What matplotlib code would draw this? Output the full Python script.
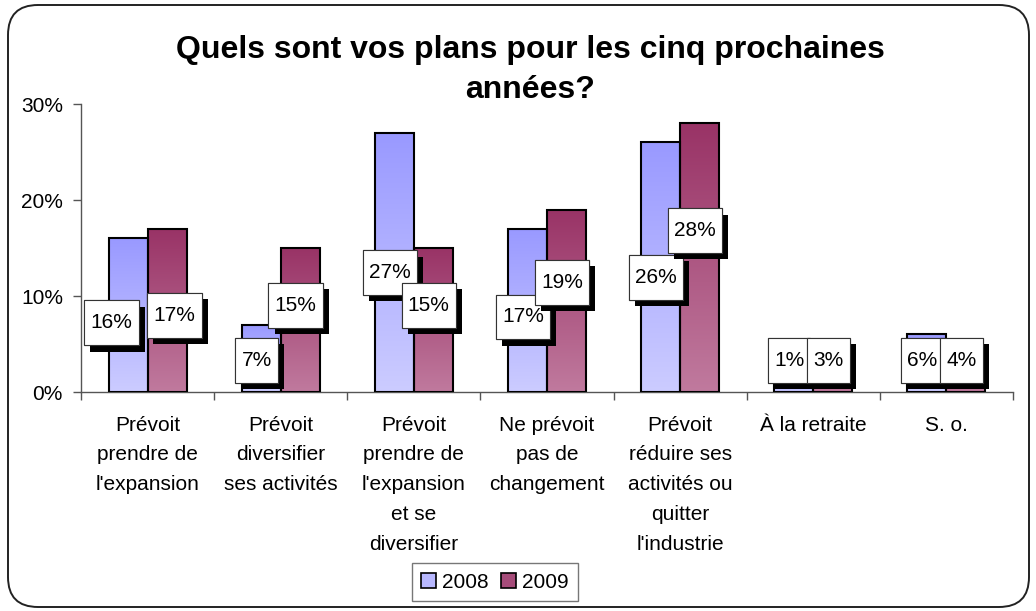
import numpy as np
import matplotlib
matplotlib.use("Agg")
import matplotlib.pyplot as plt
import matplotlib.patheffects as pe
from matplotlib.path import Path
from matplotlib.patches import FancyBboxPatch, Patch
from matplotlib.transforms import IdentityTransform
from matplotlib.colors import LinearSegmentedColormap

plt.rcParams['font.family'] = ['Liberation Sans', 'DejaVu Sans']

# donnees
categories = ["Prévoit\nprendre de\nl'expansion",
              "Prévoit\ndiversifier\nses activités",
              "Prévoit\nprendre de\nl'expansion\net se\ndiversifier",
              "Ne prévoit\npas de\nchangement",
              "Prévoit\nréduire ses\nactivités ou\nquitter\nl'industrie",
              "À la retraite",
              "S. o."]
series = ["2008", "2009"]
v2008 = [16, 7, 27, 17, 26, 1, 6]
v2009 = [17, 15, 15, 19, 28, 3, 4]
yticks = [0, 10, 20, 30]

# styles
grad = {"2008": ("#CCCCFF", "#9999FF"), "2009": ("#C07A9E", "#993366")}
legend_col = {"2008": "#B8B8FF", "2009": "#A64C7A"}
label_frac = {"2008": 0.46, "2009": 0.6}
label_min = 3.3
fs = 15


def label_box(x0, y0, width, height, mutation_size):
    px = 0.30 * mutation_size
    py = 0.62 * mutation_size
    verts = [(x0 - px, y0 - py), (x0 + width + px, y0 - py),
             (x0 + width + px, y0 + height + py), (x0 - px, y0 + height + py),
             (x0 - px, y0 - py)]
    return Path(verts, closed=True)


fig = plt.figure(figsize=(10.36, 6.11), dpi=100)
ax = fig.add_axes([81 / 1036, 1 - 392 / 611, (1013 - 81) / 1036, (392 - 104) / 611])

x = np.arange(len(categories))
w = 0.293
gradient = np.linspace(0, 1, 256).reshape(-1, 1)

# position des etiquettes: milieu de barre, ecartees si les barres sont presque egales
lab_y = [[max(v * label_frac[s], label_min) for v in vals] for s, vals in zip(series, [v2008, v2009])]
lab_dx = [[-0.035] * len(categories), [-0.035] * len(categories)]
for j in range(len(categories)):
    if abs(v2008[j] - v2009[j]) <= 1 and v2008[j] > 10:
        lab_y[0][j] = v2008[j] * 0.45
        lab_y[1][j] = v2009[j] * 0.47
        lab_dx[0][j] -= 0.09
        lab_dx[1][j] += 0.09

for i, (name, vals) in enumerate(zip(series, [v2008, v2009])):
    offs = (i - 0.5) * w
    cmap = LinearSegmentedColormap.from_list(name, grad[name])
    bars = ax.bar(x + offs, vals, w, color="none", edgecolor="black", linewidth=1.5, zorder=3)
    for b in bars:
        x0, y0 = b.get_x(), b.get_y()
        im = ax.imshow(gradient, cmap=cmap, aspect="auto", origin="lower",
                       extent=(x0, x0 + b.get_width(), y0, y0 + b.get_height()), zorder=2)
        im.set_clip_path(b)
    for j, v in enumerate(vals):
        t = ax.text(x[j] + offs + lab_dx[i][j], lab_y[i][j], f"{v}%",
                    ha="center", va="center", fontsize=fs, zorder=6,
                    bbox=dict(boxstyle=label_box, facecolor="white", edgecolor="#333333", linewidth=0.8))
        t.get_bbox_patch().set_path_effects([
            pe.withSimplePatchShadow(offset=(4.5, -4.5), shadow_rgbFace="black", alpha=1.0),
            pe.Normal()])

ax.set_xlim(-0.5, len(categories) - 0.5)
ax.set_ylim(0, 30)
ax.set_yticks(yticks)
ax.set_yticklabels([f"{t}%" for t in yticks], fontsize=fs)
ax.set_xticks(np.arange(len(categories) + 1) - 0.5)
ax.set_xticklabels([])
ax.set_xticks(x, minor=True)
ax.set_xticklabels(categories, minor=True, fontsize=fs, linespacing=1.72)
ax.tick_params(axis="x", which="minor", length=0, pad=17)
ax.tick_params(axis="x", which="major", length=6, color="#555555", width=1)
ax.tick_params(axis="y", length=6, color="#555555", width=1, pad=7)
for s in ["top", "right"]:
    ax.spines[s].set_visible(False)
for s in ["left", "bottom"]:
    ax.spines[s].set_color("#555555")
    ax.spines[s].set_linewidth(1)
ax.set_facecolor("none")

fig.text(530 / 1036, 1 - 70 / 611, "Quels sont vos plans pour les cinq prochaines\nannées?",
         ha="center", va="center", fontsize=23, fontweight="bold", linespacing=1.42)

handles = [Patch(facecolor=legend_col[s], edgecolor="black", linewidth=1.2) for s in series]
leg = fig.legend(handles, series, loc="center", bbox_to_anchor=(495 / 1036, 1 - 582 / 611),
                 ncol=2, fontsize=fs, frameon=True, fancybox=False, handlelength=0.7,
                 handleheight=0.7, handletextpad=0.3, columnspacing=0.6, borderpad=0.45,
                 borderaxespad=0)
leg.get_frame().set_edgecolor("#555555")
leg.get_frame().set_linewidth(1)

frame = FancyBboxPatch((8, 4), 1021, 602, boxstyle="round,pad=0,rounding_size=30",
                       transform=IdentityTransform(), facecolor="none",
                       edgecolor="#222222", linewidth=1.4)
fig.patches.append(frame)

fig.savefig("out.png", dpi=100)
